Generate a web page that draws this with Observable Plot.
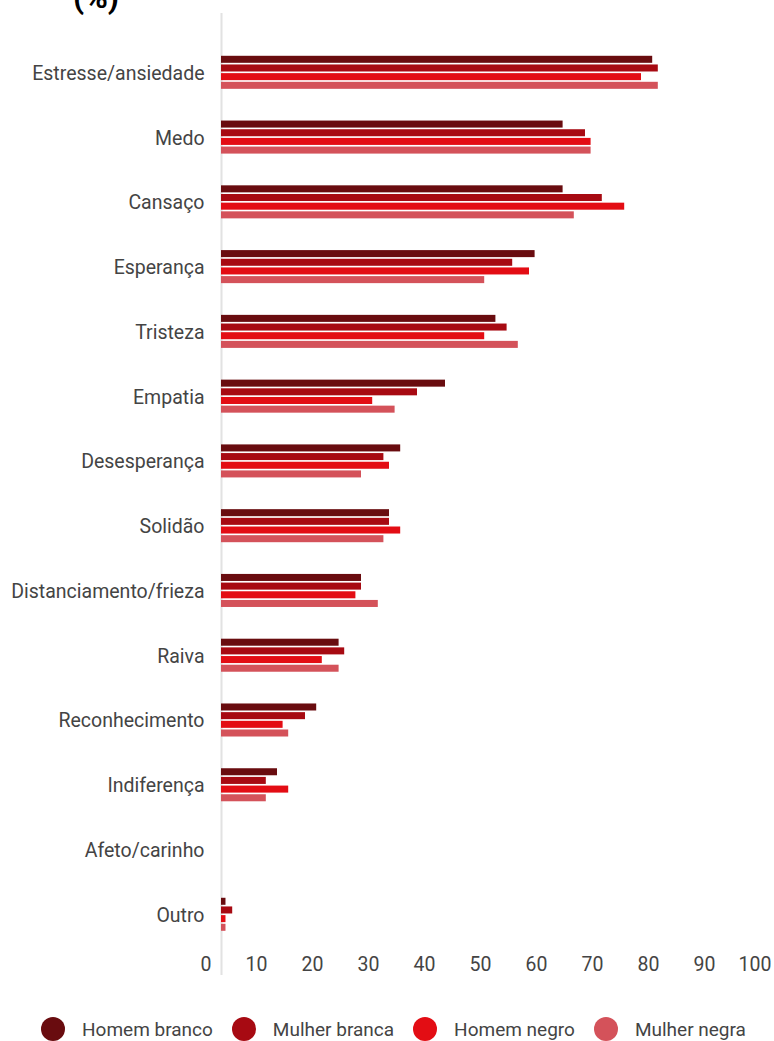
<!DOCTYPE html>
<html>
<head>
<meta charset="utf-8">
<script src="https://cdn.jsdelivr.net/npm/d3@7"></script>
<script src="https://cdn.jsdelivr.net/npm/@observablehq/plot@0.6"></script>
<style>
  html, body { margin: 0; padding: 0; background: #fff; }
  body { width: 774px; height: 1041px; position: relative; overflow: hidden; font-family: Roboto, sans-serif; }
  #title { position: absolute; left: 73px; top: -19px; font-family: Roboto, sans-serif; font-weight: 700; font-size: 32px; line-height: 1; color: #000; }
  #legend { display: flex; align-items: center; margin-left: 41px; margin-top: 27px; gap: 19px; font-size: 19px; color: #444; }
  .item { display: flex; align-items: center; gap: 17px; }
  .dot { width: 24px; height: 24px; border-radius: 50%; }
</style>
</head>
<body>
<div id="title">(%)</div>
<div id="chart"></div>
<div id="legend"></div>
<script>
const categories = ["Estresse/ansiedade","Medo","Cansaço","Esperança","Tristeza","Empatia","Desesperança","Solidão","Distanciamento/frieza","Raiva","Reconhecimento","Indiferença","Afeto/carinho","Outro"];
const series = ["Homem branco","Mulher branca","Homem negro","Mulher negra"];
const colors = ["#690c0f","#a70a12","#e30d14","#d4525a"];
const homemBranco = [77,61,61,56,49,40,32,30,25,21,17,10,0,0.8];
const mulherBranca = [78,65,68,52,51,35,29,30,25,22,15,8,0,2];
const homemNegro = [75,66,72,55,47,27,30,32,24,18,11,12,0,0.8];
const mulherNegra = [78,66,63,47,53,31,25,29,28,21,12,8,0,0.8];
const xTicks = [0,10,20,30,40,50,60,70,80,90,100];

const values = [homemBranco, mulherBranca, homemNegro, mulherNegra];
const data = categories.flatMap((c, i) => series.map((s, j) => ({category: c, series: s, value: values[j][i]})));

const chart = Plot.plot({
  width: 774,
  height: 990,
  marginLeft: 221,
  marginRight: -7,
  marginTop: 13,
  marginBottom: 15,
  style: {fontFamily: "Roboto, sans-serif", fontSize: "19.5px", color: "#444", background: "#fff", overflow: "visible"},
  x: {domain: [0, 100], axis: null, label: null},
  y: {domain: categories, padding: 0.853, round: false, axis: null, label: null},
  marks: [
    Plot.ruleX([0], {stroke: "#e2e2e2", strokeWidth: 2}),
    ...series.map((s, j) => Plot.barX(data.filter(d => d.series === s), {
      x: "value", y: "category", fill: colors[j],
      dy: (j - 1.5) * 8.67 - 0.7, insetTop: 1.25, insetBottom: 1.25
    })),
    Plot.axisY({tickSize: 0, tickPadding: 17, fontSize: 19.5, fill: "#444", label: null}),
    Plot.axisX({ticks: xTicks, tickSize: 0, tickPadding: 0, textAnchor: "end", dx: -10, dy: -18, fontSize: 19.5, fill: "#444", label: null})
  ]
});
document.getElementById("chart").appendChild(chart);

const legend = document.getElementById("legend");
series.forEach((s, j) => {
  const item = document.createElement("div");
  item.className = "item";
  const dot = document.createElement("div");
  dot.className = "dot";
  dot.style.background = colors[j];
  const label = document.createElement("span");
  label.textContent = s;
  item.appendChild(dot);
  item.appendChild(label);
  legend.appendChild(item);
});
</script>
</body>
</html>
